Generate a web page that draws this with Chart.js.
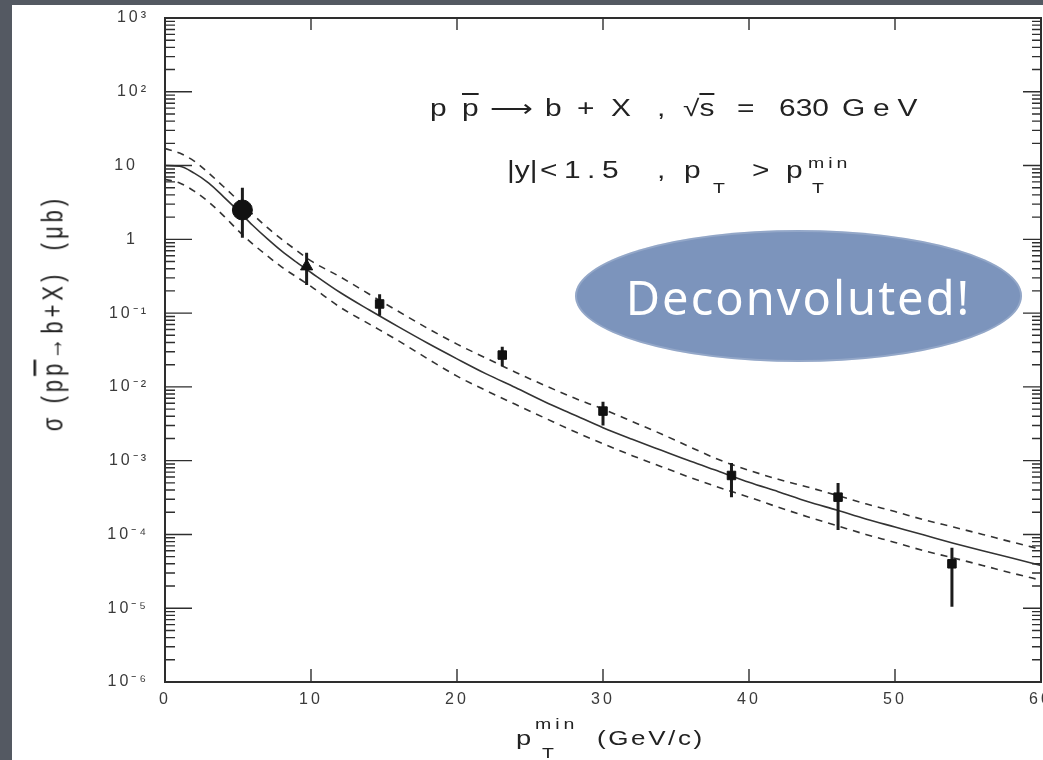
<!DOCTYPE html>
<html>
<head>
<meta charset="utf-8">
<script src="https://cdn.jsdelivr.net/npm/chart.js@4.4.0/dist/chart.umd.min.js"></script>
<style>
  html, body { margin: 0; padding: 0; }
  body { width: 1043px; height: 760px; position: relative; overflow: hidden; background: #545962; font-family: "Liberation Sans", Arial, sans-serif; }
  #paper { position: absolute; left: 12px; top: 5px; width: 1031px; height: 755px; background: #ffffff; }
  #c { position: absolute; left: 0; top: 0; }
  .tok { position: absolute; color: #222; white-space: nowrap; line-height: 1; transform-origin: 0 0; transform: scaleX(1.3); }
  .f23 { font-size: 23px; }
  .f14 { font-size: 15px; }
  .ov { text-decoration: overline; text-decoration-thickness: 1.5px; }
  #ytitle { position: absolute; left: 53px; top: 313px; color: #222; font-size: 22px; white-space: nowrap; letter-spacing: 4px; line-height: 1;
            transform: translate(-50%, -50%) rotate(-90deg) scaleY(1.3); }
  #bubble { position: absolute; left: 575px; top: 230px; width: 447px; height: 132px; border-radius: 50%;
            background: #7c94bc; box-shadow: inset 0 0 0 2px rgba(255,255,255,0.18);
            display: flex; align-items: center; justify-content: center; }
  #bubble span { color: #ffffff; font-family: "Noto Sans", "DejaVu Sans", sans-serif; font-size: 47px; letter-spacing: 2px; line-height: 1; margin-top: 2px; }
</style>
</head>
<body>
<div id="paper"></div>
<canvas id="c" width="1043" height="760"></canvas>

<!-- annotation line 1 -->
<div class="tok f23" style="left:430px; top:97px;">p</div>
<div class="tok f23" style="left:462px; top:97px;"><span class="ov">p</span></div>
<div class="tok f23" style="left:490px; top:97px;">⟶</div>
<div class="tok f23" style="left:545px; top:97px;">b</div>
<div class="tok f23" style="left:577px; top:97px;">+</div>
<div class="tok f23" style="left:611px; top:97px;">X</div>
<div class="tok f23" style="left:657px; top:97px;">,</div>
<div class="tok f23" style="left:683px; top:97px;">√<span class="ov">s</span></div>
<div class="tok f23" style="left:737px; top:97px;">=</div>
<div class="tok f23" style="left:779px; top:97px;">630</div>
<div class="tok f23" style="left:842px; top:97px; letter-spacing:6px;">GeV</div>

<!-- annotation line 2 -->
<div class="tok f23" style="left:507px; top:159px;">|y|</div>
<div class="tok f23" style="left:540px; top:159px; letter-spacing:5px;">&lt;1.5</div>
<div class="tok f23" style="left:657px; top:159px;">,</div>
<div class="tok f23" style="left:684px; top:159px;">p</div>
<div class="tok f14" style="left:713px; top:180px;">T</div>
<div class="tok f23" style="left:752px; top:159px;">&gt;</div>
<div class="tok f23" style="left:786px; top:159px;">p</div>
<div class="tok f14" style="left:808px; top:155px; letter-spacing:3px;">min</div>
<div class="tok f14" style="left:812px; top:180px;">T</div>

<!-- x axis title -->
<div class="tok f23" style="left:516px; top:727px; font-size:21px;">p</div>
<div class="tok f14" style="left:535px; top:716px; letter-spacing:3px;">min</div>
<div class="tok f14" style="left:542px; top:745px;">T</div>
<div class="tok" style="left:597px; top:728px; font-size:20px; letter-spacing:2px;">(GeV/c)</div>

<!-- y axis title -->
<div id="ytitle">σ (p<span class="ov">p</span>→b+X)&nbsp;&nbsp;(μb)</div>

<div id="bubble"><span>Deconvoluted!</span></div>

<script>
// ---------------- data ----------------
const curveX = [0, 1, 2, 3, 4, 5, 6, 7, 8, 9, 10, 12, 14, 16, 18, 20, 22, 24, 26, 28, 30,
                32, 34, 36, 38, 40, 42, 44, 46, 48, 50, 52, 54, 56, 58, 60];
const centralCurve = [10, 9.8, 7.9, 5.8, 3.8, 2.45, 1.55, 1.02, 0.69, 0.49, 0.355, 0.19, 0.11, 0.065, 0.039,
                0.024, 0.015, 0.0098, 0.0063, 0.0042, 0.0028, 0.00195, 0.00138, 0.00098, 0.00071, 0.00051,
                0.00038, 0.00028, 0.000214, 0.000162, 0.000126, 0.000098, 0.000076, 0.00006, 0.000048, 0.000038];
const upperCurve = [17, 14.8, 11.5, 7.9, 5.2, 3.4, 2.2, 1.45, 1.0, 0.71, 0.51, 0.31, 0.18, 0.105, 0.062,
                0.038, 0.0245, 0.0158, 0.0105, 0.0071, 0.0050, 0.0034, 0.0023, 0.00152, 0.00102, 0.00074,
                0.00056, 0.00044, 0.00034, 0.00026, 0.000204, 0.000158, 0.000126, 0.0001, 0.000079, 0.000063];
const lowerCurve = [6.5, 5.8, 4.5, 3.2, 2.1, 1.32, 0.87, 0.60, 0.42, 0.31, 0.23, 0.12, 0.071, 0.042, 0.024,
                0.014, 0.0089, 0.0058, 0.0038, 0.0025, 0.0017, 0.00117, 0.00083, 0.00059, 0.00043, 0.00032,
                0.000234, 0.000174, 0.000132, 0.0001, 0.000078, 0.00006, 0.000048, 0.000038, 0.00003, 0.000024];

const pointX  = [5.3, 9.7, 14.7, 23.1, 30.0, 38.8, 46.1, 53.9];
const pointY  = [2.5, 0.43, 0.133, 0.027, 0.0047, 0.00063, 0.00032, 0.00004];
const errLow  = [1.05, 0.24, 0.092, 0.019, 0.0030, 0.00032, 0.000115, 0.0000105];
const errHigh = [5.0, 0.66, 0.18, 0.035, 0.0063, 0.00093, 0.0005, 0.000066];
const markerStyles = ['circle', 'triangle', 'rect', 'rect', 'rect', 'rect', 'rect', 'rect'];

const xTickValues = [0, 10, 20, 30, 40, 50, 60];
const yTickValues = [1e3, 1e2, 10, 1, 1e-1, 1e-2, 1e-3, 1e-4, 1e-5, 1e-6];
const yTickLabels = ['10³', '10²', '10\u2002', '1\u2002', '10⁻¹', '10⁻²', '10⁻³', '10⁻⁴', '10⁻⁵', '10⁻⁶'];

// ---------------- build datasets ----------------
const toXY = (xs, ys) => xs.map((x, i) => ({ x: x, y: ys[i] }));
const errData = [];
pointX.forEach((x, i) => {
  errData.push({ x: x, y: errLow[i] }, { x: x, y: errHigh[i] }, { x: x, y: null });
});

const INK = '#2e2e2e';
const axisDecor = {
  id: 'axisDecor',
  beforeUpdate(chart) { chart.ctx.letterSpacing = '3px'; },
  beforeDraw(chart) { chart.ctx.letterSpacing = '3px'; },
  afterDatasetsDraw(chart) {
    const { ctx, chartArea: a, scales } = chart;
    const xs = scales.x, ys = scales.y;
    ctx.save();
    ctx.strokeStyle = INK;
    ctx.lineWidth = 2;
    ctx.strokeRect(a.left, a.top, a.right - a.left, a.bottom - a.top);
    ctx.lineWidth = 1.4;
    ctx.beginPath();
    const expMin = Math.round(Math.log10(ys.min)), expMax = Math.round(Math.log10(ys.max));
    for (let e = expMin; e < expMax; e++) {
      for (let m = 1; m <= 9; m++) {
        const py = ys.getPixelForValue(m * Math.pow(10, e));
        const L = m === 1 ? 27 : 10, R = m === 1 ? 18 : 9;
        ctx.moveTo(a.left, py); ctx.lineTo(a.left + L, py);
        ctx.moveTo(a.right, py); ctx.lineTo(a.right - R, py);
      }
    }
    xTickValues.forEach(v => {
      const px = xs.getPixelForValue(v);
      ctx.moveTo(px, a.bottom); ctx.lineTo(px, a.bottom - 13);
      ctx.moveTo(px, a.top); ctx.lineTo(px, a.top + 12);
    });
    ctx.stroke();
    ctx.restore();
  }
};

Chart.defaults.font.family = '"Liberation Sans", Arial, sans-serif';

new Chart(document.getElementById('c'), {
  type: 'line',
  data: {
    datasets: [
      { label: 'UA1 data', data: toXY(pointX, pointY), showLine: false,
        pointStyle: markerStyles, pointRadius: [10, 7, 6, 6, 6, 6, 6, 6],
        pointBackgroundColor: '#111', pointBorderColor: '#111', pointBorderWidth: 1 },
      { label: 'errors', data: errData, borderColor: '#1c1c1c', borderWidth: 3,
        pointRadius: 0, spanGaps: false },
      { label: 'central', data: toXY(curveX, centralCurve), borderColor: '#333', borderWidth: 1.6,
        pointRadius: 0, cubicInterpolationMode: 'monotone' },
      { label: 'upper', data: toXY(curveX, upperCurve), borderColor: '#333', borderWidth: 1.6,
        borderDash: [7, 6], pointRadius: 0, cubicInterpolationMode: 'monotone' },
      { label: 'lower', data: toXY(curveX, lowerCurve), borderColor: '#333', borderWidth: 1.6,
        borderDash: [7, 6], pointRadius: 0, cubicInterpolationMode: 'monotone' }
    ]
  },
  options: {
    responsive: false,
    animation: false,
    devicePixelRatio: 1,
    layout: { autoPadding: false, padding: { top: 18, right: 2, bottom: 0, left: 0 } },
    plugins: { legend: { display: false }, tooltip: { enabled: false } },
    scales: {
      x: {
        type: 'linear', min: 0, max: 60, position: 'bottom',
        grid: { display: false, drawTicks: false },
        border: { display: false },
        ticks: { color: '#3a3a3a', font: { size: 16 }, padding: 8, maxRotation: 0, autoSkip: false,
                 callback: v => String(v) },
        afterBuildTicks: s => { s.ticks = xTickValues.map(v => ({ value: v })); },
        afterFit: s => { s.height = 78; s.paddingLeft = 0; s.paddingRight = 0; }
      },
      y: {
        type: 'logarithmic', min: 1e-6, max: 1e3, position: 'left',
        grid: { display: false, drawTicks: false },
        border: { display: false },
        ticks: { color: '#3a3a3a', font: { size: 16 }, padding: 16, autoSkip: false,
                 callback: (v) => {
                   const k = yTickValues.findIndex(t => Math.abs(Math.log10(t) - Math.log10(v)) < 1e-6);
                   return k >= 0 ? yTickLabels[k] : '';
                 } },
        afterBuildTicks: s => { s.ticks = yTickValues.slice().reverse().map(v => ({ value: v })); },
        afterFit: s => { s.width = 165; s.paddingTop = 0; s.paddingBottom = 0; }
      }
    }
  },
  plugins: [axisDecor]
});
</script>
</body>
</html>
